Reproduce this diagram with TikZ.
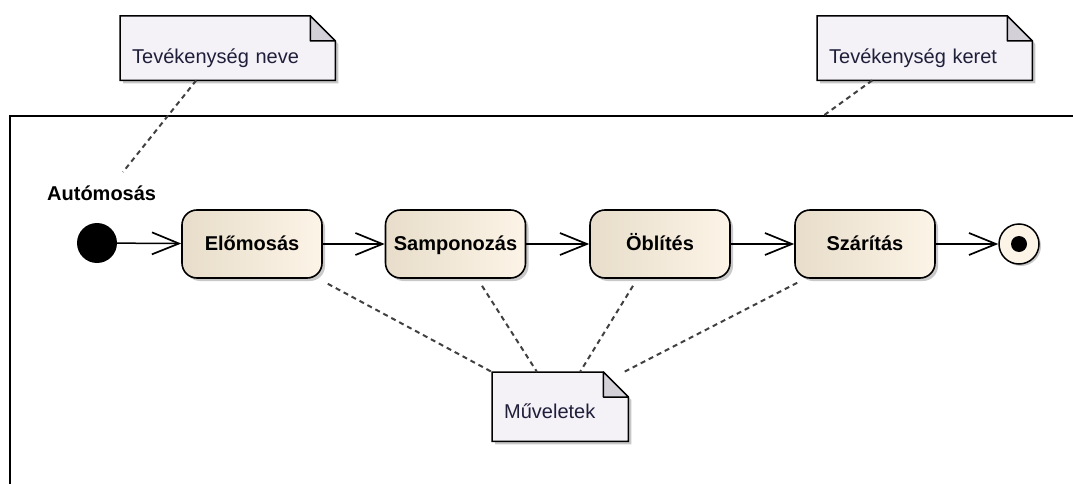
\documentclass[tikz,border=0pt]{standalone}
\usepackage{fontspec}
\setmainfont{Liberation Sans}
\usetikzlibrary{arrows.meta,shadows,backgrounds}

\definecolor{actleft}{HTML}{E8DDCA}
\definecolor{actright}{HTML}{FCF4E7}
\definecolor{notefill}{HTML}{F4F1F7}
\definecolor{foldfill}{HTML}{D3D0D8}
\definecolor{notetext}{HTML}{1F1F3A}

\newcommand{\actfont}{\fontsize{20}{24}\selectfont\bfseries}
\newcommand{\notefont}{\fontsize{20}{24}\selectfont}

% megjegyzes hattere behajtott sarokkal
\newcommand{\notelap}[1]{%
	\begin{pgfonlayer}{background}
		\fill[black!22] ([shift={(3,3)}]#1.north west) -- ([shift={(-22,3)}]#1.north east) -- ([shift={(3,28)}]#1.north east) -- ([shift={(3,3)}]#1.south east) -- ([shift={(3,3)}]#1.south west) -- cycle;
		\filldraw[fill=notefill, line width=1.5pt] (#1.north west) -- ([shift={(-25,0)}]#1.north east) -- ([shift={(0,25)}]#1.north east) -- (#1.south east) -- (#1.south west) -- cycle;
		\filldraw[fill=foldfill, line width=1.5pt, line join=round] ([shift={(-25,0)}]#1.north east) -- ([shift={(-25,25)}]#1.north east) -- ([shift={(0,25)}]#1.north east) -- cycle;
	\end{pgfonlayer}%
}

\begin{document}
\begin{tikzpicture}[x=1pt, y=-1pt,
	act/.style={rounded corners=15pt, minimum width=140pt, minimum height=68pt, draw, line width=1.6pt,
		left color=actleft, right color=actright, font=\actfont, text height=14pt, text depth=2pt,
		drop shadow={shadow xshift=3pt, shadow yshift=-3pt, opacity=.3, fill=black!70}},
	notebox/.style={anchor=north west, inner xsep=12pt, inner ysep=5pt, text width=#1, align=left,
		font=\notefont, text=notetext, text height=42pt, text depth=12pt},
	flow/.style={line width=1.5pt, -{Straight Barb[length=27pt, width=22pt, line width=1.7pt]}},
	link/.style={dash pattern=on 5pt off 4pt, line width=2pt, black!75}]
	\useasboundingbox (0,0) rectangle (1073,484);
	
	\draw[line width=1.5pt] (10,484) -- (10,116) -- (1073,116); % Keret
	
	\node[circle, fill=black, minimum size=40pt, inner sep=0pt] (kezd) at (97,243) {}; % Kezdopont
	\node[act] (elo) at (252,244) {Előmosás};
	\node[act] (samp) at (455.5,244) {Samponozás};
	\node[act] (obl) at (660,244) {Öblítés};
	\node[act] (szar) at (865,244) {Szárítás};
	\node[circle, draw, line width=1.5pt, fill=actright, minimum size=40pt, inner sep=0pt,
		drop shadow={shadow xshift=2pt, shadow yshift=-2pt, opacity=.3, fill=black!70}] (veg) at (1019,244) {}; % Vegpont
	\fill (veg.center) circle (8pt);
	
	\node[font=\actfont, anchor=base west, inner sep=0pt] (aut) at (47,200) {Autómosás};
	
	\draw[flow] (kezd) -- (elo);
	\draw[flow] (elo) -- (samp);
	\draw[flow] (samp) -- (obl);
	\draw[flow] (obl) -- (szar);
	\draw[flow] (szar) -- (veg);
	
	\node[notebox=191pt] (nevnote) at (120,16) {Tevékenység neve};
	\node[notebox=191pt] (keretnote) at (817,16) {Tevékenység keret};
	\node[notebox=112pt, inner xsep=12pt, text height=41pt, text depth=18pt] (mulnote) at (492,372) {Műveletek};
	\notelap{nevnote}
	\notelap{keretnote}
	\notelap{mulnote}
	
	\coordinate (nevpont) at (123,172);
	\coordinate (keretpont) at (823,116);
	\coordinate (mulpont) at (622,373);
	
	\draw[link] ([shift={(-31.5,0)}]nevnote.south) -- (nevpont);
	\draw[link] ([shift={(-52.5,0)}]keretnote.south) -- (keretpont);
	
	\draw[link] ([shift={(5,5)}]elo.south east) -- (mulnote.north west);
	\draw[link] ([shift={(26.5,7)}]samp.south) -- ([shift={(45,0)}]mulnote.north west);
	\draw[link] ([shift={(-27,7)}]obl.south) -- ([shift={(88,0)}]mulnote.north west);
	\draw[link] ([shift={(3,4)}]szar.south west) -- (mulpont);
\end{tikzpicture}
\end{document}
